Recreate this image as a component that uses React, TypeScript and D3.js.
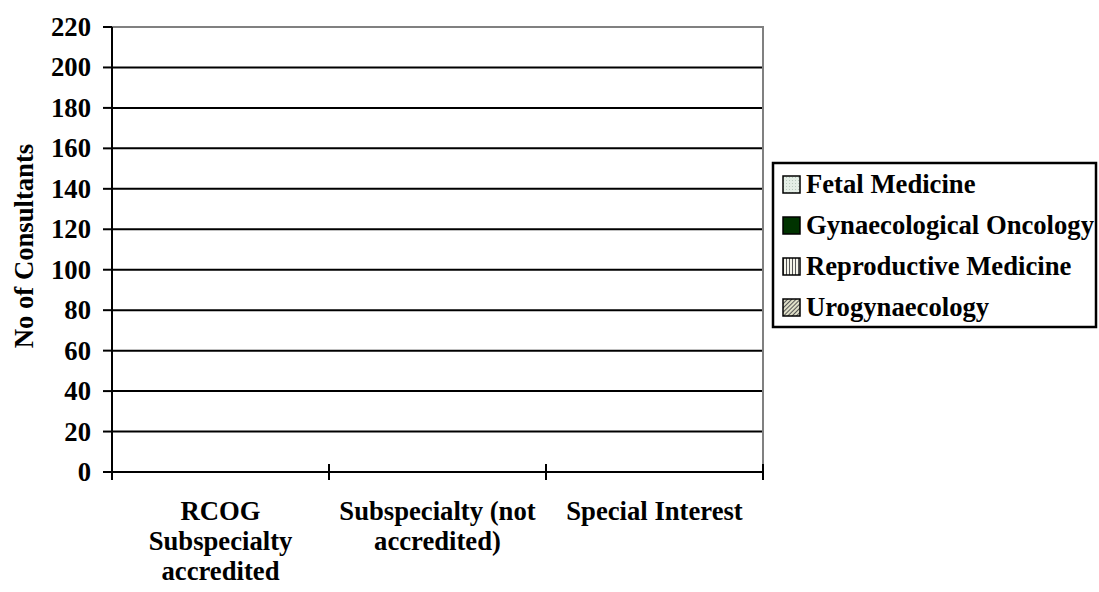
import React from "react";
import * as d3 from "d3";

const categories = [
  ["RCOG", "Subspecialty", "accredited"],
  ["Subspecialty (not", "accredited)"],
  ["Special Interest"],
];
const seriesNames = ["Fetal Medicine", "Gynaecological Oncology", "Reproductive Medicine", "Urogynaecology"];
const fetalMedicine = [0, 0, 0];
const gynaeOncology = [0, 0, 0];
const reproductiveMedicine = [0, 0, 0];
const urogynaecology = [0, 0, 0];
const yTicks = [0, 20, 40, 60, 80, 100, 120, 140, 160, 180, 200, 220];

const W = 1099, H = 592;
const left = 112, right = 763, top = 27, bottom = 472;
const FONT = "'Liberation Serif', 'Times New Roman', serif";
const FS = 26.67;

export default function App() {
  const y = d3.scaleLinear().domain([0, 220]).range([bottom, top]);
  const x = d3.scaleBand().domain(["0", "1", "2"]).range([left, right]).padding(0);
  const series = [fetalMedicine, gynaeOncology, reproductiveMedicine, urogynaecology];
  const fills = ["url(#pFetal)", "#003300", "url(#pRepro)", "url(#pUro)"];
  const inner = d3.scaleBand().domain(seriesNames).range([0, x.bandwidth()]).paddingInner(0).paddingOuter(0.6);
  const legendBase = [193, 234, 275, 316];
  return (
    <svg width={W} height={H} style={{ position: "absolute", left: 0, top: 0, background: "#fff" }}>
      <defs>
        <pattern id="pFetal" width="3" height="3" patternUnits="userSpaceOnUse">
          <rect width="3" height="3" fill="#e4eee6" />
          <rect width="1" height="1" fill="#b8c8bc" />
        </pattern>
        <pattern id="pRepro" width="3" height="3" patternUnits="userSpaceOnUse">
          <rect width="3" height="3" fill="#f4f4ea" />
          <rect width="1" height="3" fill="#555" />
        </pattern>
        <pattern id="pUro" width="3" height="3" patternUnits="userSpaceOnUse" patternTransform="rotate(45)">
          <rect width="3" height="3" fill="#e0e0c8" />
          <rect width="1" height="3" fill="#555" />
        </pattern>
      </defs>
      {yTicks.filter(t => t > 0 && t < 220).map(t => (
        <line key={t} x1={left} x2={right} y1={y(t)} y2={y(t)} stroke="#000" strokeWidth={2} />
      ))}
      <line x1={left} x2={right + 1} y1={y(220)} y2={y(220)} stroke="#808080" strokeWidth={2} />
      <line x1={right} x2={right} y1={y(220)} y2={bottom} stroke="#808080" strokeWidth={2} />
      {series.map((s, si) => s.map((v, ci) => (
        <rect key={`${si}-${ci}`} x={(x(String(ci)) as number) + (inner(seriesNames[si]) as number)} y={y(v)}
          width={inner.bandwidth()} height={bottom - y(v)} fill={fills[si]} stroke="#000" strokeWidth={v > 0 ? 1 : 0} />
      )))}
      <line x1={left} x2={left} y1={y(220)} y2={bottom + 8} stroke="#000" strokeWidth={2} />
      {yTicks.map(t => (
        <g key={t}>
          <line x1={left - 9} x2={left} y1={y(t)} y2={y(t)} stroke="#000" strokeWidth={2} />
          <text x={91} y={y(t) + 9} textAnchor="end" fontFamily={FONT} fontWeight="bold" fontSize={FS}>{t}</text>
        </g>
      ))}
      <line x1={left - 9} x2={right} y1={bottom} y2={bottom} stroke="#000" strokeWidth={2} />
      {[0, 1, 2, 3].map(i => {
        const px = i < 3 ? (x(String(i)) as number) : right;
        return <line key={i} x1={px} x2={px} y1={bottom - 8} y2={bottom + 8} stroke="#000" strokeWidth={2} />;
      })}
      {categories.map((lines, ci) => (
        <text key={ci} textAnchor="middle" fontFamily={FONT} fontWeight="bold" fontSize={FS}>
          {lines.map((l, li) => (
            <tspan key={li} x={(x(String(ci)) as number) + x.bandwidth() / 2} y={520 + li * 30}>{l}</tspan>
          ))}
        </text>
      ))}
      <text transform={`translate(33,246) rotate(-90)`} textAnchor="middle" fontFamily={FONT} fontWeight="bold" fontSize={FS}>No of Consultants</text>
      <rect x={773} y={163} width={323} height={164} fill="#fff" stroke="#000" strokeWidth={2.5} />
      {seriesNames.map((n, i) => (
        <g key={n}>
          <rect x={783} y={legendBase[i] - 17} width={17} height={17} fill={fills[i]} stroke="#000" strokeWidth={1.5} />
          <text x={806} y={legendBase[i]} fontFamily={FONT} fontWeight="bold" fontSize={FS}>{n}</text>
        </g>
      ))}
    </svg>
  );
}
